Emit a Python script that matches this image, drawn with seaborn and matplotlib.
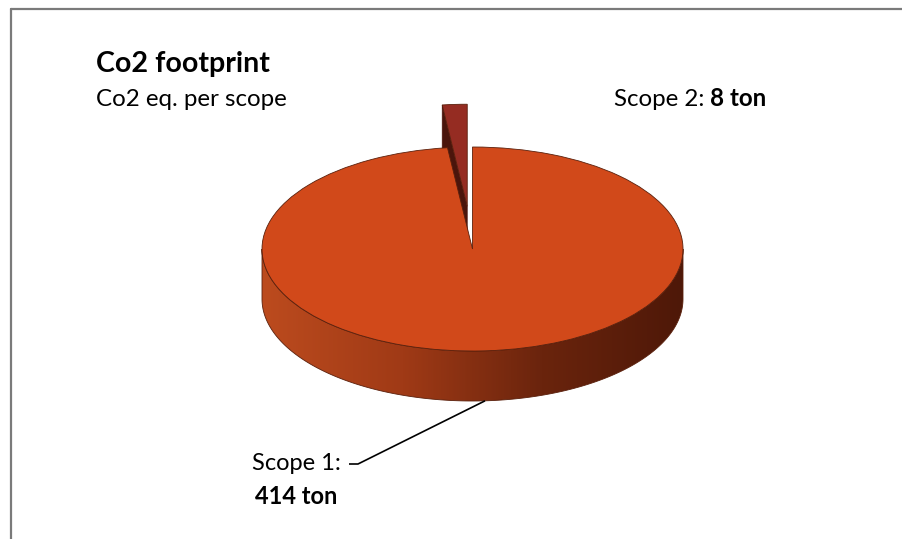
import numpy as np
import pandas as pd
import matplotlib
matplotlib.use("Agg")
import matplotlib.pyplot as plt
import seaborn as sns
from matplotlib.patches import Polygon
from matplotlib.lines import Line2D

sns.set_theme(style="white")
plt.rcParams['font.family'] = ['Lato', 'DejaVu Sans']
plt.rcParams['text.color'] = 'black'

# data
scopes = ['Scope 1', 'Scope 2']
tons = [414, 8]
explode = [0, 0.42]

title = 'Co2 footprint'
subtitle = 'Co2 eq. per scope'

# colours
top_colors = ['#D1491A', '#952C22']
side_colors = ['#BC4B1E', '#A03A16', '#6A240D', '#4E1808']
cut_color = '#4A150C'
edge_color = '#5A200C'

df = pd.DataFrame({'scope': scopes, 'tons': tons, 'explode': explode})

# layout (pixels)
W, H = 902, 539
cx, cy, rx, ry = 472.5, 249, 210.5, 102
depth = 50 / ry


def px(x, y):
    return (x - cx) / rx, (cy - y) / ry


def fpx(x, y):
    return x / W, 1 - y / H


fig = plt.figure(figsize=(W / 100, H / 100), dpi=100)
ax = fig.add_axes([0, 0, 1, 1])

wedges, _ = ax.pie(df['tons'], explode=df['explode'], startangle=90,
                   counterclock=False, colors=top_colors,
                   wedgeprops=dict(edgecolor=edge_color, linewidth=0.6))
w_main, w_small = wedges

# small slice: visible cut face, behind main pie
cs = np.array(w_small.center)
t2 = np.radians(w_small.theta2)
p_out = cs + [np.cos(t2), np.sin(t2)]
face = np.array([cs, p_out, p_out - [0, depth], cs - [0, depth]])
ax.add_patch(Polygon(face, closed=True, facecolor=cut_color,
                     edgecolor=cut_color, lw=0.5, zorder=1))
w_small.set_zorder(1.5)

# main slice: front wall with gradient
c = np.array(w_main.center)
th = np.radians(np.linspace(-180, 0, 240))
top = np.c_[np.cos(th), np.sin(th)] + c
bot = top - [0, depth]
wall = Polygon(np.r_[top, bot[::-1]], closed=True, facecolor='none',
               edgecolor=edge_color, lw=0.6, zorder=3)
ax.add_patch(wall)
cmap = sns.blend_palette(side_colors, as_cmap=True)
grad = np.linspace(0, 1, 256)[None, :]
im = ax.imshow(grad, cmap=cmap, aspect='auto', zorder=2.5,
               extent=[c[0] - 1, c[0] + 1, c[1] - 1 - depth, c[1]])
im.set_clip_path(wall)
w_main.set_zorder(4)

# leader line for scope 1
mid = np.radians((w_main.theta1 + w_main.theta2) / 2)
start = c + [np.cos(mid), np.sin(mid) - depth]
elbow = px(358, 464)
end = px(349, 464)
ax.plot([start[0], elbow[0], end[0]], [start[1], elbow[1], end[1]],
        color='black', lw=1.2, zorder=5, solid_capstyle='butt')

ax.set_aspect('auto')
ax.set_xlim(-cx / rx, (W - cx) / rx)
ax.set_ylim((cy - H) / ry, cy / ry)
ax.axis('off')

# chart border (top and left edges)
fig.add_artist(Line2D([11 / W, 11 / W], [0, 1 - 9 / H], color='#7a7a7a', lw=1.6))
fig.add_artist(Line2D([11 / W, 1], [1 - 9 / H, 1 - 9 / H], color='#7a7a7a', lw=1.6))

# titles
fig.text(*fpx(96, 72), title, fontsize=20.6, fontweight='bold', ha='left', va='baseline')
fig.text(*fpx(96, 106), subtitle, fontsize=17.4, ha='left', va='baseline')

# labels
fig.text(*fpx(296, 463), f'{scopes[0]}:', fontsize=17, ha='center', va='center')
fig.text(*fpx(296, 497), f'{tons[0]} ton', fontsize=17, fontweight='bold',
         ha='center', va='center')

t_reg = fig.text(*fpx(614, 106), f'{scopes[1]}: ', fontsize=17.4, ha='left', va='baseline')
fig.canvas.draw()
bb = t_reg.get_window_extent()
fig.text(bb.x1 / W, 1 - 106 / H, f'{tons[1]} ton', fontsize=17.4, fontweight='bold',
         ha='left', va='baseline')

fig.savefig('out.png', dpi=100, facecolor='white')
